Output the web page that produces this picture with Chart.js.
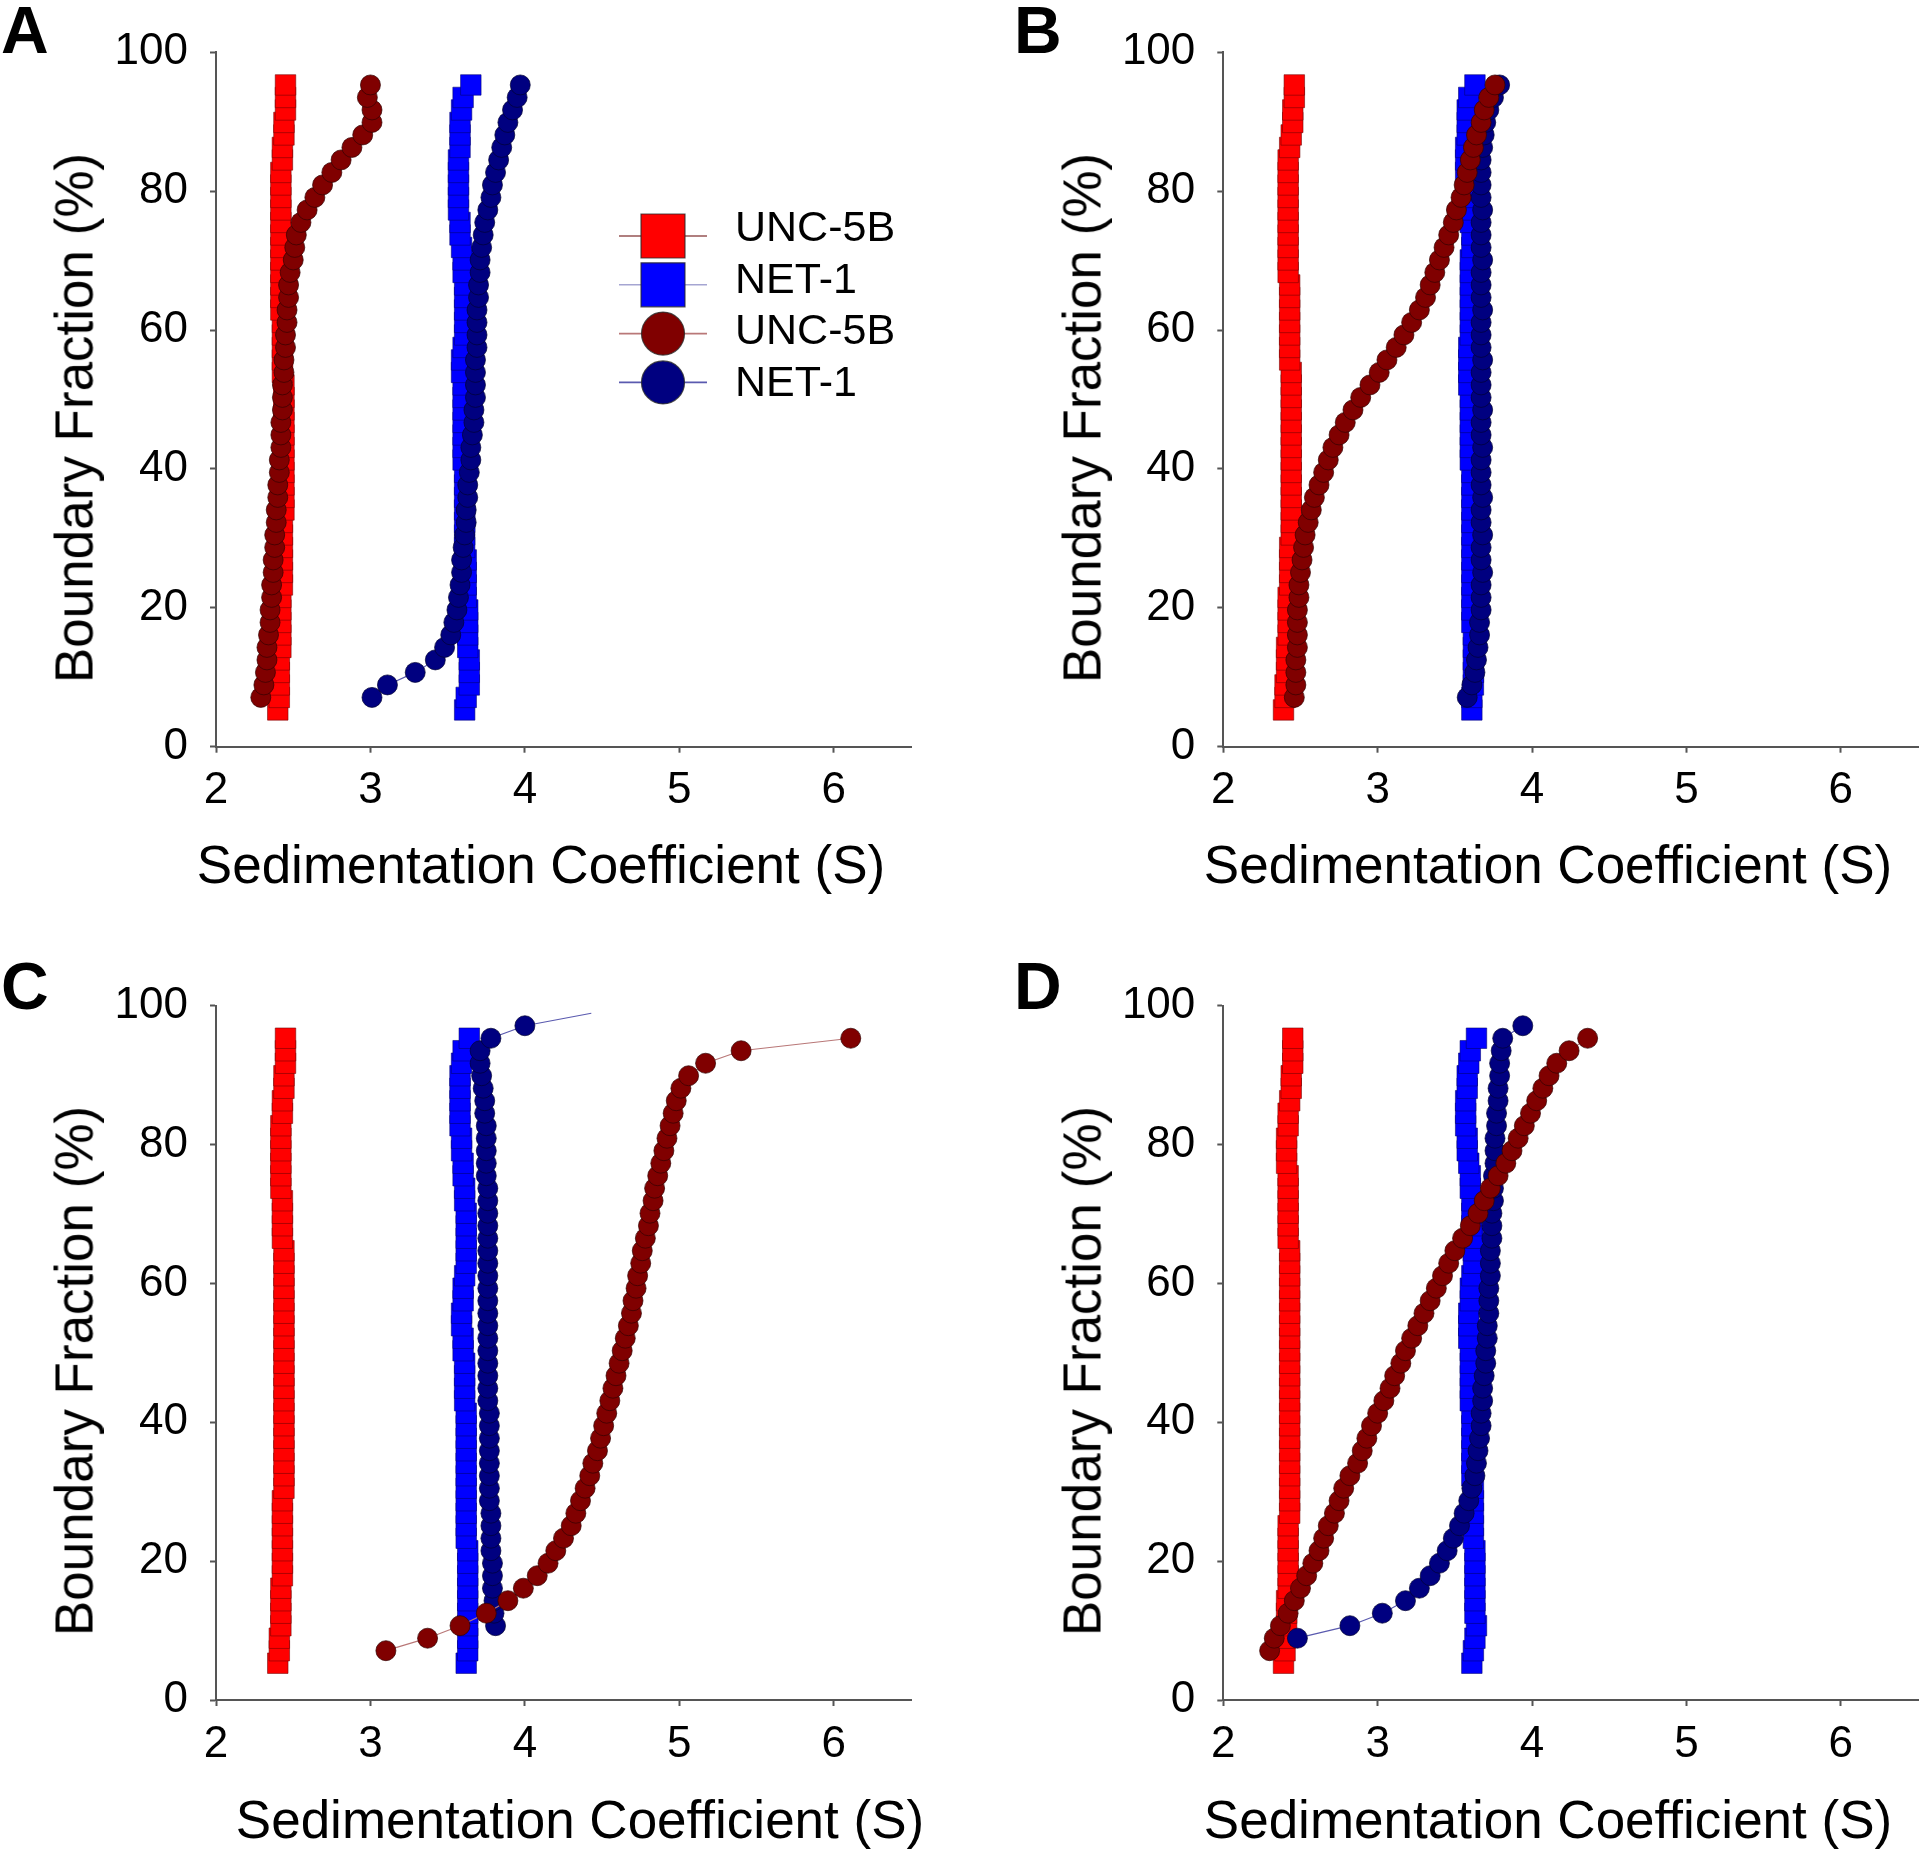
<!DOCTYPE html>
<html><head><meta charset="utf-8">
<script src="https://cdn.jsdelivr.net/npm/chart.js@4.4.1/dist/chart.umd.min.js"></script>
<style>
html,body{margin:0;padding:0;background:#fff;}
body{width:1920px;height:1850px;position:relative;overflow:hidden;font-family:"Liberation Sans",Arial,sans-serif;}
canvas{position:absolute;}
.lbl{position:absolute;color:#000;white-space:nowrap;line-height:1;}
.panel{font-weight:bold;font-size:66px;}
.xt{font-size:53px;transform:translate(-50%,-50%);}
.yt{font-size:53px;transform:translate(-50%,-50%) rotate(-90deg);}
</style></head>
<body>
<canvas id="cA" width="960" height="925" style="left:0;top:0"></canvas>
<canvas id="cB" width="960" height="925" style="left:960px;top:0"></canvas>
<canvas id="cC" width="960" height="925" style="left:0;top:925px"></canvas>
<canvas id="cD" width="960" height="925" style="left:960px;top:925px"></canvas>

<div class="lbl panel" style="left:1px;top:-3px">A</div>
<div class="lbl panel" style="left:1014px;top:-3px">B</div>
<div class="lbl panel" style="left:1px;top:953px">C</div>
<div class="lbl panel" style="left:1014px;top:953px">D</div>

<div class="lbl xt" style="left:541px;top:864px">Sedimentation Coefficient (S)</div>
<div class="lbl xt" style="left:1548px;top:864px">Sedimentation Coefficient (S)</div>
<div class="lbl xt" style="left:580px;top:1819px">Sedimentation Coefficient (S)</div>
<div class="lbl xt" style="left:1548px;top:1819px">Sedimentation Coefficient (S)</div>

<div class="lbl yt" style="left:74px;top:418px">Boundary Fraction (%)</div>
<div class="lbl yt" style="left:1082px;top:418px">Boundary Fraction (%)</div>
<div class="lbl yt" style="left:74px;top:1371px">Boundary Fraction (%)</div>
<div class="lbl yt" style="left:1082px;top:1371px">Boundary Fraction (%)</div>

<script>
// ---------- tick values ----------
const xTicks = [2, 3, 4, 5, 6];
const yTicks = [0, 20, 40, 60, 80, 100];

// ---------- boundary fractions (%) ----------
const fracSquares = [5.3,7.1,8.9,10.7,12.5,14.3,16.1,17.9,19.7,21.5,23.3,25.1,26.9,28.7,30.5,32.3,34.1,35.9,37.7,39.5,41.3,43.1,44.9,46.7,48.5,50.3,52.1,53.9,55.7,57.5,59.3,61.1,62.9,64.7,66.5,68.3,70.1,71.9,73.7,75.5,77.3,79.1,80.9,82.7,84.5,86.3,88.1,89.9,91.7,93.5,95.3];
const fracCircles = [7.1,8.9,10.7,12.5,14.3,16.1,17.9,19.7,21.5,23.3,25.1,26.9,28.7,30.5,32.3,34.1,35.9,37.7,39.5,41.3,43.1,44.9,46.7,48.5,50.3,52.1,53.9,55.7,57.5,59.3,61.1,62.9,64.7,66.5,68.3,70.1,71.9,73.7,75.5,77.3,79.1,80.9,82.7,84.5,86.3,88.1,89.9,91.7,93.5,95.3];
const fracNetC = [10.7,12.5,14.3,16.1,17.9,19.7,21.5,23.3,25.1,26.9,28.7,30.5,32.3,34.1,35.9,37.7,39.5,41.3,43.1,44.9,46.7,48.5,50.3,52.1,53.9,55.7,57.5,59.3,61.1,62.9,64.7,66.5,68.3,70.1,71.9,73.7,75.5,77.3,79.1,80.9,82.7,84.5,86.3,88.1,89.9,91.7,93.5,95.3,97.1,98.9];
const fracNetD = [8.9,10.7,12.5,14.3,16.1,17.9,19.7,21.5,23.3,25.1,26.9,28.7,30.5,32.3,34.1,35.9,37.7,39.5,41.3,43.1,44.9,46.7,48.5,50.3,52.1,53.9,55.7,57.5,59.3,61.1,62.9,64.7,66.5,68.3,70.1,71.9,73.7,75.5,77.3,79.1,80.9,82.7,84.5,86.3,88.1,89.9,91.7,93.5,95.3,97.1];

// ---------- sedimentation coefficients (S) ----------
// Panel A
const sqUncA = [2.40,2.41,2.41,2.41,2.41,2.42,2.42,2.42,2.42,2.42,2.43,2.43,2.43,2.43,2.43,2.43,2.44,2.44,2.44,2.44,2.44,2.44,2.44,2.44,2.44,2.44,2.44,2.43,2.43,2.43,2.43,2.43,2.42,2.42,2.42,2.42,2.42,2.42,2.42,2.42,2.42,2.42,2.42,2.42,2.43,2.43,2.44,2.44,2.45,2.45,2.45];
const sqNetA = [3.61,3.62,3.64,3.64,3.64,3.63,3.63,3.63,3.63,3.62,3.62,3.62,3.62,3.61,3.61,3.61,3.61,3.61,3.61,3.61,3.60,3.60,3.60,3.60,3.60,3.60,3.60,3.59,3.59,3.60,3.61,3.61,3.61,3.61,3.61,3.60,3.60,3.59,3.58,3.58,3.57,3.57,3.57,3.57,3.57,3.58,3.58,3.58,3.59,3.60,3.65];
const ciUncA = [2.29,2.31,2.32,2.33,2.33,2.34,2.35,2.35,2.36,2.36,2.37,2.37,2.38,2.38,2.39,2.39,2.40,2.40,2.41,2.41,2.42,2.42,2.42,2.43,2.43,2.43,2.44,2.44,2.45,2.45,2.46,2.46,2.47,2.47,2.48,2.50,2.51,2.52,2.55,2.59,2.64,2.69,2.75,2.81,2.88,2.95,3.01,3.01,2.98,3.00];
const ciNetA = [3.01,3.11,3.29,3.42,3.48,3.52,3.54,3.56,3.57,3.58,3.59,3.59,3.60,3.61,3.62,3.62,3.63,3.63,3.64,3.65,3.65,3.66,3.67,3.67,3.68,3.68,3.68,3.68,3.69,3.69,3.69,3.69,3.70,3.70,3.71,3.71,3.72,3.73,3.74,3.76,3.78,3.79,3.81,3.83,3.85,3.87,3.89,3.92,3.95,3.97];
// Panel B
const sqUncB = [2.39,2.40,2.40,2.41,2.41,2.41,2.42,2.42,2.42,2.42,2.43,2.43,2.43,2.43,2.44,2.44,2.44,2.44,2.44,2.44,2.44,2.44,2.44,2.44,2.44,2.44,2.44,2.44,2.43,2.43,2.43,2.43,2.43,2.43,2.43,2.42,2.42,2.42,2.42,2.42,2.42,2.42,2.42,2.42,2.42,2.43,2.44,2.45,2.45,2.46,2.46];
const sqNetB = [3.61,3.61,3.62,3.62,3.62,3.62,3.62,3.61,3.61,3.61,3.61,3.61,3.61,3.61,3.61,3.61,3.61,3.61,3.61,3.61,3.60,3.60,3.60,3.60,3.60,3.60,3.59,3.59,3.59,3.59,3.60,3.60,3.60,3.60,3.60,3.60,3.60,3.61,3.61,3.60,3.60,3.59,3.58,3.57,3.57,3.57,3.58,3.58,3.58,3.59,3.63];
const ciUncB = [2.46,2.47,2.47,2.47,2.48,2.48,2.48,2.48,2.49,2.49,2.50,2.51,2.52,2.53,2.55,2.57,2.59,2.62,2.65,2.68,2.71,2.75,2.79,2.84,2.89,2.95,3.01,3.06,3.12,3.17,3.22,3.27,3.31,3.34,3.37,3.40,3.43,3.46,3.49,3.51,3.54,3.56,3.58,3.60,3.62,3.64,3.67,3.69,3.72,3.76];
const ciNetB = [3.58,3.61,3.63,3.64,3.65,3.66,3.66,3.67,3.67,3.67,3.68,3.67,3.67,3.68,3.67,3.67,3.68,3.67,3.67,3.67,3.68,3.67,3.67,3.68,3.67,3.67,3.67,3.68,3.67,3.67,3.67,3.68,3.67,3.67,3.67,3.68,3.67,3.67,3.67,3.68,3.67,3.67,3.67,3.67,3.68,3.69,3.70,3.72,3.75,3.79];
// Panel C
const sqUncC = [2.40,2.41,2.41,2.42,2.42,2.42,2.42,2.43,2.43,2.43,2.43,2.43,2.43,2.43,2.44,2.44,2.44,2.44,2.44,2.44,2.44,2.44,2.44,2.44,2.44,2.44,2.44,2.44,2.44,2.44,2.44,2.44,2.44,2.44,2.43,2.43,2.43,2.43,2.42,2.42,2.42,2.42,2.42,2.42,2.43,2.43,2.44,2.44,2.45,2.45,2.45];
const sqNetC = [3.62,3.63,3.63,3.63,3.63,3.63,3.63,3.63,3.63,3.63,3.62,3.62,3.62,3.62,3.62,3.62,3.62,3.62,3.62,3.62,3.62,3.61,3.61,3.61,3.61,3.60,3.60,3.59,3.59,3.60,3.60,3.61,3.62,3.62,3.62,3.62,3.62,3.61,3.61,3.60,3.60,3.59,3.59,3.58,3.58,3.58,3.58,3.58,3.59,3.60,3.64];
const ciUncC = [3.10,3.37,3.58,3.75,3.89,3.99,4.08,4.15,4.20,4.25,4.30,4.33,4.36,4.39,4.42,4.44,4.47,4.49,4.51,4.53,4.55,4.57,4.59,4.61,4.63,4.65,4.67,4.69,4.70,4.72,4.73,4.75,4.76,4.78,4.80,4.81,4.83,4.84,4.86,4.88,4.90,4.92,4.94,4.96,4.98,5.01,5.06,5.17,5.40,6.11];
const ciNetC = [3.81,3.80,3.80,3.79,3.79,3.79,3.78,3.78,3.78,3.78,3.77,3.77,3.77,3.77,3.77,3.77,3.77,3.77,3.76,3.76,3.76,3.76,3.76,3.76,3.76,3.76,3.76,3.76,3.76,3.76,3.76,3.76,3.76,3.76,3.76,3.76,3.75,3.75,3.75,3.75,3.75,3.74,3.74,3.73,3.72,3.71,3.71,3.78,4.00,4.43];
// Panel D
const sqUncD = [2.39,2.40,2.40,2.41,2.41,2.41,2.42,2.42,2.42,2.42,2.42,2.42,2.43,2.43,2.43,2.43,2.43,2.43,2.43,2.43,2.43,2.43,2.43,2.43,2.43,2.43,2.43,2.43,2.43,2.43,2.43,2.43,2.43,2.43,2.42,2.42,2.42,2.42,2.42,2.42,2.41,2.41,2.41,2.42,2.42,2.43,2.44,2.44,2.45,2.45,2.45];
const sqNetD = [3.61,3.62,3.63,3.64,3.63,3.63,3.63,3.63,3.63,3.63,3.62,3.62,3.62,3.62,3.62,3.61,3.61,3.61,3.61,3.61,3.61,3.60,3.60,3.60,3.60,3.60,3.59,3.59,3.59,3.60,3.60,3.61,3.62,3.62,3.62,3.61,3.61,3.61,3.60,3.60,3.59,3.58,3.58,3.57,3.57,3.57,3.58,3.58,3.59,3.60,3.64];
const ciUncD = [2.30,2.33,2.37,2.42,2.46,2.50,2.54,2.58,2.62,2.65,2.68,2.72,2.75,2.78,2.82,2.87,2.90,2.93,2.96,3.00,3.04,3.08,3.11,3.15,3.18,3.22,3.26,3.30,3.34,3.38,3.42,3.46,3.50,3.55,3.60,3.65,3.69,3.73,3.78,3.83,3.87,3.91,3.95,3.99,4.03,4.07,4.11,4.16,4.24,4.36];
const ciNetD = [2.48,2.82,3.03,3.18,3.27,3.34,3.40,3.45,3.49,3.53,3.56,3.59,3.61,3.63,3.64,3.65,3.66,3.67,3.67,3.68,3.68,3.69,3.70,3.70,3.71,3.71,3.72,3.72,3.72,3.73,3.73,3.73,3.74,3.74,3.74,3.75,3.75,3.75,3.76,3.76,3.76,3.77,3.77,3.78,3.78,3.79,3.79,3.80,3.81,3.94];

const seriesLabels = ['UNC-5B', 'NET-1', 'UNC-5B', 'NET-1'];

// ---------- styles ----------
const FONT = "'Liberation Sans', Arial, sans-serif";
Chart.defaults.font.family = FONT;

const styles = [
  { pointStyle: 'rect', pointRadius: 14.5, pointBackgroundColor: '#ff0000', pointBorderColor: 'rgba(110,0,0,0.55)', pointBorderWidth: 1, borderColor: 'rgb(150,85,85)', borderWidth: 1.2, order: 3 },
  { pointStyle: 'rect', pointRadius: 14.5, pointBackgroundColor: '#0000ff', pointBorderColor: 'rgba(0,0,110,0.55)', pointBorderWidth: 1, borderColor: 'rgb(165,165,210)', borderWidth: 1.2, order: 2 },
  { pointStyle: 'circle', pointRadius: 10, pointBackgroundColor: '#800000', pointBorderColor: 'rgba(50,0,0,0.7)', pointBorderWidth: 1, borderColor: 'rgb(185,120,120)', borderWidth: 1.2, order: 0 },
  { pointStyle: 'circle', pointRadius: 10, pointBackgroundColor: '#000080', pointBorderColor: 'rgba(0,0,50,0.7)', pointBorderWidth: 1, borderColor: 'rgb(90,90,175)', borderWidth: 1.2, order: 1 }
];

function makeDataset(k, xs, ys, hideLastMarker) {
  const st = styles[k];
  const ds = Object.assign({}, st, {
    label: seriesLabels[k],
    data: xs.map((x, i) => ({ x: x, y: ys[i] })),
    backgroundColor: st.pointBackgroundColor,
    showLine: true, tension: 0, fill: false
  });
  if (hideLastMarker) {
    const r = st.pointRadius;
    ds.pointRadius = (c) => (c.dataIndex === xs.length - 1 ? 0 : r);
  }
  return ds;
}

const symbolLegend = {
  id: 'symbolLegend',
  afterDatasetsDraw(chart, args, o) {
    if (!o || !o.show) return;
    const ctx = chart.ctx;
    ctx.save();
    chart.data.datasets.forEach((d, i) => {
      const y = o.y0 + i * o.dy;
      ctx.strokeStyle = d.borderColor; ctx.lineWidth = 1.6;
      ctx.beginPath(); ctx.moveTo(o.x - o.half, y); ctx.lineTo(o.x + o.half, y); ctx.stroke();
      ctx.fillStyle = d.pointBackgroundColor; ctx.strokeStyle = 'rgba(40,40,40,0.8)'; ctx.lineWidth = 1.2;
      ctx.beginPath();
      if (d.pointStyle === 'rect') ctx.rect(o.x - o.sq / 2, y - o.sq / 2, o.sq, o.sq);
      else ctx.arc(o.x, y, o.r, 0, Math.PI * 2);
      ctx.fill(); ctx.stroke();
      ctx.fillStyle = '#000'; ctx.font = o.fontSize + 'px ' + FONT;
      ctx.textAlign = 'left'; ctx.textBaseline = 'middle';
      ctx.fillText(d.label, o.textX, o.ty0 + i * o.tdy + 2);
    });
    ctx.restore();
  }
};

function makeChart(id, area, datasets, legendOpts) {
  const canvas = document.getElementById(id);
  const W = canvas.width, H = canvas.height;
  const axisCol = '#555';
  return new Chart(canvas, {
    type: 'line',
    data: { datasets: datasets },
    options: {
      responsive: false, maintainAspectRatio: false, animation: false, events: [],
      layout: { autoPadding: false, padding: { left: 0, top: area.top, right: W - area.right, bottom: 0 } },
      plugins: {
        legend: { display: false }, tooltip: { enabled: false }, title: { display: false },
        symbolLegend: legendOpts || { show: false }
      },
      scales: {
        x: {
          type: 'linear', position: 'bottom', min: 2, max: 6.5,
          afterBuildTicks: (s) => { s.ticks = xTicks.map(v => ({ value: v })); },
          afterFit: (s) => { s.height = H - area.bottom; s.paddingLeft = 0; s.paddingRight = 0; },
          grid: { display: true, drawOnChartArea: false, drawTicks: true, tickLength: 6, tickWidth: 2, tickColor: axisCol, color: axisCol },
          border: { display: true, color: axisCol, width: 2 },
          ticks: { color: '#000', font: { size: 44, family: FONT }, padding: 12, maxRotation: 0, autoSkip: false }
        },
        y: {
          type: 'linear', position: 'left', min: 0, max: 100,
          afterBuildTicks: (s) => { s.ticks = yTicks.map(v => ({ value: v })); },
          afterFit: (s) => { s.width = area.left; s.paddingTop = 0; s.paddingBottom = 0; },
          grid: { display: true, drawOnChartArea: false, drawTicks: true, tickLength: 6, tickWidth: 2, tickColor: axisCol, color: axisCol },
          border: { display: true, color: axisCol, width: 2 },
          ticks: { color: '#000', font: { size: 44, family: FONT }, padding: 22, autoSkip: false }
        }
      }
    },
    plugins: [symbolLegend]
  });
}

const areaLeft = { left: 216, right: 911, top: 52.3, bottom: 746.7 };
const areaRight = { left: 263.3, right: 958, top: 52.3, bottom: 746.7 };
const areaLeftLow = { left: 216, right: 911, top: 80.6, bottom: 775 };
const areaRightLow = { left: 263.3, right: 958, top: 80.6, bottom: 775 };

makeChart('cA', areaLeft, [
  makeDataset(0, sqUncA, fracSquares),
  makeDataset(1, sqNetA, fracSquares),
  makeDataset(2, ciUncA, fracCircles),
  makeDataset(3, ciNetA, fracCircles)
], { show: true, x: 663, y0: 236, dy: 48.8, half: 44, sq: 44, r: 21.5, textX: 735, ty0: 227, tdy: 51.8, fontSize: 43 });

makeChart('cB', areaRight, [
  makeDataset(0, sqUncB, fracSquares),
  makeDataset(1, sqNetB, fracSquares),
  makeDataset(2, ciUncB, fracCircles),
  makeDataset(3, ciNetB, fracCircles)
]);

makeChart('cC', areaLeftLow, [
  makeDataset(0, sqUncC, fracSquares),
  makeDataset(1, sqNetC, fracSquares),
  makeDataset(2, ciUncC, fracCircles),
  makeDataset(3, ciNetC, fracNetC, true)
]);

makeChart('cD', areaRightLow, [
  makeDataset(0, sqUncD, fracSquares),
  makeDataset(1, sqNetD, fracSquares),
  makeDataset(2, ciUncD, fracCircles),
  makeDataset(3, ciNetD, fracNetD)
]);
</script>
</body></html>
